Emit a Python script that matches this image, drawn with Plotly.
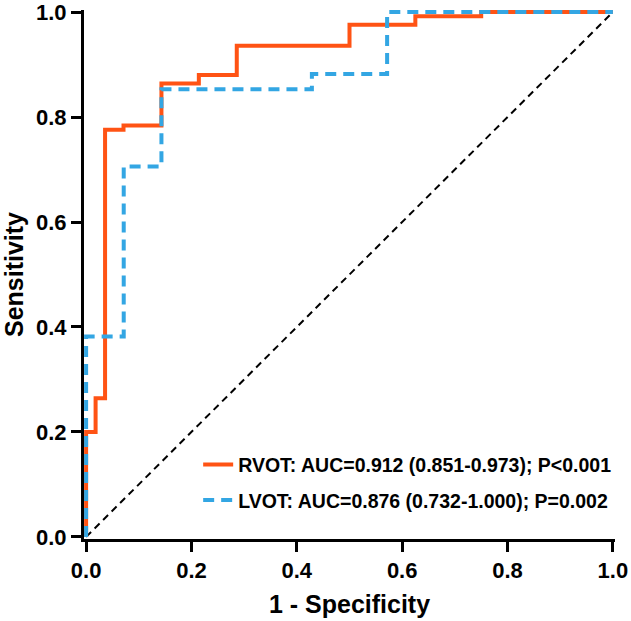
import plotly.graph_objects as go

# RVOT ROC curve (1 - specificity, sensitivity) step points
rvot_fpr = [0.0, 0.0, 0.018, 0.018, 0.036, 0.036, 0.071, 0.071, 0.143, 0.143, 0.214, 0.214,
            0.286, 0.286, 0.5, 0.5, 0.625, 0.625, 0.75, 0.75, 1.0]
rvot_tpr = [0.0, 0.2, 0.2, 0.264, 0.264, 0.776, 0.776, 0.784, 0.784, 0.864, 0.864, 0.88,
            0.88, 0.936, 0.936, 0.976, 0.976, 0.992, 0.992, 1.0, 1.0]

# LVOT ROC curve
lvot_fpr = [0.0, 0.0, 0.0714, 0.0714, 0.143, 0.143, 0.4286, 0.4286, 0.5714, 0.5714, 1.0]
lvot_tpr = [0.0, 0.382, 0.382, 0.706, 0.706, 0.853, 0.853, 0.882, 0.882, 1.0, 1.0]

# Reference line
ref_x = [0.0, 1.0]
ref_y = [0.0, 1.0]

names = ["RVOT: AUC=0.912 (0.851-0.973); P<0.001",
         "LVOT: AUC=0.876 (0.732-1.000); P=0.002"]
tick_vals = [0.0, 0.2, 0.4, 0.6, 0.8, 1.0]
tick_text = ["0.0", "0.2", "0.4", "0.6", "0.8", "1.0"]

FONT = "Arial, Liberation Sans, Helvetica, sans-serif"

fig = go.Figure()
fig.add_trace(go.Scatter(x=ref_x, y=ref_y, mode="lines", showlegend=False,
                         line=dict(color="black", width=2, dash="7px,5px")))
fig.add_trace(go.Scatter(x=rvot_fpr, y=rvot_tpr, mode="lines", name=names[0],
                         legendgroup="a",
                         line=dict(color="#FF5314", width=4)))
fig.add_trace(go.Scatter(x=lvot_fpr, y=lvot_tpr, mode="lines", name=names[1],
                         legendgroup="b",
                         line=dict(color="#33A6E3", width=4, dash="11px,7px")))

axis_common = dict(
    showline=True, linecolor="black", linewidth=3,
    ticks="outside", ticklen=10, tickwidth=3, tickcolor="black",
    showgrid=False, zeroline=False,
    tickvals=tick_vals, ticktext=tick_text,
    tickfont=dict(family=FONT, size=22, color="black", weight="bold"),
    layer="below traces", automargin=False, ticklabeloverflow="allow",
)

fig.update_layout(
    width=631, height=621,
    margin=dict(l=84, r=16, t=10, b=82),
    paper_bgcolor="white", plot_bgcolor="white",
    xaxis=dict(range=[-0.004, 1.004],
               title=dict(text="1 - Specificity", standoff=14,
                          font=dict(family=FONT, size=25, color="black", weight="bold")),
               **axis_common),
    yaxis=dict(range=[-0.004, 1.004],
               title=dict(text="Sensitivity", standoff=12,
                          font=dict(family=FONT, size=25, color="black", weight="bold")),
               **axis_common),
    legend=dict(x=0.215, y=0.177, xanchor="left", yanchor="top",
                bgcolor="rgba(0,0,0,0)", tracegroupgap=7,
                font=dict(family=FONT, size=19.5, color="black", weight="bold")),
)

fig.write_html("out.html",
               config={"displayModeBar": False},
               post_script="document.body.style.margin='0px';document.body.style.overflow='hidden';")
